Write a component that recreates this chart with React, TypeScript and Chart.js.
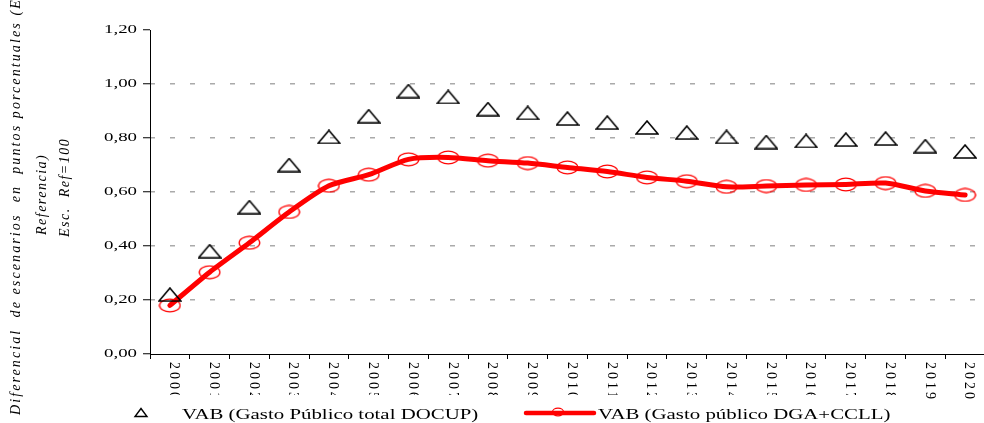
import React, { useEffect, useRef } from "react";
import { Chart, registerables } from "chart.js";

Chart.register(...registerables);

const years = ["2000","2001","2002","2003","2004","2005","2006","2007","2008","2009","2010","2011","2012","2013","2014","2015","2016","2017","2018","2019","2020"];
const docupValues = [0.22, 0.381, 0.544, 0.70, 0.804, 0.881, 0.974, 0.952, 0.907, 0.893, 0.872, 0.857, 0.839, 0.820, 0.804, 0.785, 0.789, 0.794, 0.798, 0.770, 0.750];
const dgaValues = [0.18, 0.303, 0.412, 0.526, 0.623, 0.664, 0.721, 0.728, 0.716, 0.707, 0.691, 0.676, 0.654, 0.640, 0.619, 0.622, 0.626, 0.628, 0.633, 0.604, 0.589];
const yTickValues = [0, 0.2, 0.4, 0.6, 0.8, 1.0, 1.2];
const yTickLabels = ["0,00", "0,20", "0,40", "0,60", "0,80", "1,00", "1,20"];
const seriesLabels = ["VAB (Gasto Público total DOCUP)", "VAB (Gasto público DGA+CCLL)"];
const yTitleLines = ["Diferencial  de escenarios  en  puntos porcentuales (Esc.", "Referencia)", "Esc.  Ref=100"];

const SERIF = "'Liberation Serif', 'Times New Roman', serif";
const STRETCH = 1.45;
const LEGEND_STRETCH = 1.49;

function makeTriangle(): HTMLCanvasElement {
  const c = document.createElement("canvas");
  c.width = 24; c.height = 15;
  const g = c.getContext("2d")!;
  g.strokeStyle = "#000"; g.lineWidth = 1.6; g.lineJoin = "miter";
  g.beginPath();
  g.moveTo(12, 1); g.lineTo(23, 14); g.lineTo(1, 14); g.closePath();
  g.stroke();
  return c;
}

function makeEllipse(): HTMLCanvasElement {
  const c = document.createElement("canvas");
  c.width = 23; c.height = 15;
  const g = c.getContext("2d")!;
  g.strokeStyle = "#ff0000"; g.lineWidth = 1.3;
  g.beginPath();
  g.ellipse(11.5, 7.5, 10.3, 6.4, 0, 0, Math.PI * 2);
  g.stroke();
  return c;
}

function stretchText(ctx: CanvasRenderingContext2D, text: string, x: number, y: number, align: CanvasTextAlign, sx: number) {
  ctx.save();
  ctx.translate(x, y);
  ctx.scale(sx, 1);
  ctx.textAlign = align;
  ctx.fillText(text, 0, 0);
  ctx.restore();
}

const textPlugin = {
  id: "customText",
  afterDraw(chart: any) {
    const ctx: CanvasRenderingContext2D = chart.ctx;
    const xs = chart.scales.x;
    const ys = chart.scales.y;
    ctx.save();
    ctx.fillStyle = "#000";

    // y tick labels
    ctx.font = `13px ${SERIF}`;
    ctx.textBaseline = "middle";
    yTickValues.forEach((v, i) => {
      stretchText(ctx, yTickLabels[i], 137, ys.getPixelForValue(v), "right", STRETCH);
    });

    // x tick labels, rotated clockwise
    ctx.font = `14px ${SERIF}`;
    (ctx as any).letterSpacing = "3px";
    years.forEach((yr, i) => {
      const px = xs.getPixelForValue(i) + 4;
      ctx.save();
      ctx.translate(px, 362);
      ctx.rotate(Math.PI / 2);
      ctx.textAlign = "left";
      ctx.textBaseline = "middle";
      ctx.fillText(yr, 0, 0);
      ctx.restore();
    });
    (ctx as any).letterSpacing = "0px";

    // legend box (covers the bottom of the tick labels)
    ctx.fillStyle = "#fff";
    ctx.fillRect(120, 395, 795, 28);
    ctx.fillStyle = "#000";

    // legend item 1: triangle
    ctx.strokeStyle = "#000";
    ctx.lineWidth = 1.4;
    ctx.beginPath();
    ctx.moveTo(141, 408.5); ctx.lineTo(147, 416.5); ctx.lineTo(135, 416.5); ctx.closePath();
    ctx.stroke();
    ctx.font = `14px ${SERIF}`;
    ctx.textBaseline = "alphabetic";
    stretchText(ctx, chart.data.datasets[0].label, 182, 419, "left", LEGEND_STRETCH);

    // legend item 2: red line + ellipse
    ctx.strokeStyle = "#ff0000";
    ctx.lineWidth = 4.5;
    ctx.lineCap = "round";
    ctx.beginPath();
    ctx.moveTo(526, 413); ctx.lineTo(594, 413);
    ctx.stroke();
    ctx.lineWidth = 1.2;
    ctx.beginPath();
    ctx.ellipse(558, 412, 5.5, 3.8, 0, 0, Math.PI * 2);
    ctx.stroke();
    stretchText(ctx, chart.data.datasets[1].label, 598, 419, "left", LEGEND_STRETCH);

    // y-axis title (three rotated lines)
    ctx.font = `italic 14px ${SERIF}`;
    ctx.textBaseline = "middle";
    const titlePos = [[16, 415], [42, 235], [65, 237]];
    const titleSpacing = ["2.1px", "1.5px", "1.5px"];
    yTitleLines.forEach((t, i) => {
      (ctx as any).letterSpacing = titleSpacing[i];
      ctx.save();
      ctx.translate(titlePos[i][0], titlePos[i][1]);
      ctx.rotate(-Math.PI / 2);
      ctx.textAlign = "left";
      ctx.fillText(t, 0, 0);
      ctx.restore();
    });
    (ctx as any).letterSpacing = "0px";
    ctx.restore();
  },
};

export default function App() {
  const ref = useRef<HTMLCanvasElement | null>(null);
  useEffect(() => {
    if (!ref.current) return;
    const tri = makeTriangle();
    const ell = makeEllipse();
    const chart = new Chart(ref.current, {
      type: "line",
      data: {
        labels: years,
        datasets: [
          {
            label: seriesLabels[0],
            data: docupValues,
            showLine: false,
            pointStyle: tri as any,
            pointRadius: 10,
            borderColor: "#000",
            backgroundColor: "#000",
          },
          {
            label: seriesLabels[1],
            data: dgaValues,
            borderColor: "#ff0000",
            backgroundColor: "#ff0000",
            borderWidth: 5,
            tension: 0.25,
            pointStyle: ell as any,
            pointRadius: 10,
            borderCapStyle: "round",
          },
        ],
      },
      options: {
        animation: false,
        responsive: false,
        events: [],
        layout: { padding: { top: 30, right: 9, left: 0, bottom: 0 } },
        plugins: { legend: { display: false }, tooltip: { enabled: false } },
        scales: {
          x: {
            type: "category",
            offset: true,
            grid: { offset: true, drawOnChartArea: false, drawTicks: true, tickLength: 5, tickColor: "#000", tickWidth: 1 },
            border: { color: "#000", width: 1 },
            ticks: { display: false },
            afterFit: (s: any) => { s.height = 69; },
          },
          y: {
            min: 0,
            max: 1.2,
            ticks: { stepSize: 0.2, display: false },
            grid: {
              color: (c: any) => (c.tick && c.tick.value > 0.001 && c.tick.value < 1.19 ? "#aaaaaa" : "rgba(0,0,0,0)"),
              lineWidth: 1.5,
              tickColor: "#000",
              tickLength: 7,
              tickWidth: 1,
            },
            border: { color: "#000", width: 1, dash: [5, 15], dashOffset: 1 },
            afterFit: (s: any) => { s.width = 150; },
          },
        },
      },
      plugins: [textPlugin],
    });
    return () => chart.destroy();
  }, []);
  return (
    <div style={{ position: "fixed", left: 0, top: 0, width: 984, height: 423, overflow: "hidden", background: "#fff" }}>
      <canvas ref={ref} width={1000} height={423} style={{ width: 1000, height: 423, display: "block" }} />
    </div>
  );
}
